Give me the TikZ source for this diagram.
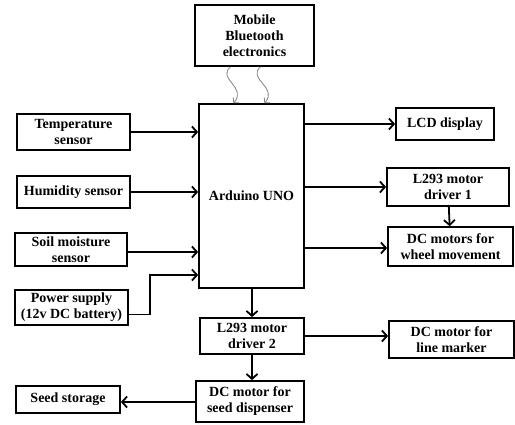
\documentclass[tikz,border=0pt]{standalone}
\usepackage{fontspec}
\setmainfont{Liberation Serif}
\usetikzlibrary{arrows.meta}

\begin{document}
\begin{tikzpicture}[x=1pt,y=-1pt,
  block/.style={draw=black, rectangle, line width=1.7pt, inner sep=0pt, align=center, font=\bfseries\fontsize{14}{16}\selectfont},
  link/.style={-{Straight Barb[length=5pt,width=11pt]}, line width=1.8pt},
  wave/.style={-{Straight Barb[length=3.5pt,width=8pt]}, gray, line width=0.8pt}]
			\useasboundingbox (0,0) rectangle (515,425);
			\node [block, minimum width=119pt, minimum height=61pt] (mob) at (254.5,35.5) {Mobile\\Bluetooth\\electronics};
			\node [block, minimum width=105pt, minimum height=184pt] (ard) at (251.5,196) {Arduino UNO};
			\node [block, minimum width=113pt, minimum height=36pt] (temp) at (73.5,132) {Temperature\\sensor};
			\node [block, minimum width=113pt, minimum height=32pt] (hum) at (73.5,192) {Humidity sensor};
			\node [block, minimum width=112pt, minimum height=33pt] (soil) at (71,249.5) {Soil moisture\\sensor};
			\node [block, minimum width=113pt, minimum height=35pt] (pow) at (71.5,307.5) {Power supply\\(12v DC battery)};
			\node [block, minimum width=98pt, minimum height=32pt] (lcd) at (445,124) {LCD display};
			\node [block, minimum width=122pt, minimum height=38pt] (drvA) at (448,187) {L293 motor\\driver 1};
			\node [block, minimum width=125pt, minimum height=39pt] (wheel) at (450.5,246.5) {DC motors for\\wheel movement};
			\node [block, minimum width=104pt, minimum height=36pt] (drvB) at (252,336) {L293 motor\\driver 2};
			\node [block, minimum width=125pt, minimum height=37pt] (marker) at (451.5,339.5) {DC motor for\\line marker};
			\node [block, minimum width=108pt, minimum height=41pt] (disp) at (250,401.5) {DC motor for\\seed dispenser};
			\node [block, minimum width=104pt, minimum height=27pt] (seed) at (68,399.5) {Seed storage};
			\coordinate (bend) at (150,275);
			% bluetooth link
			\draw [wave] ([xshift=-24pt]mob.south) .. controls +(-14,12) and +(14,-16) .. ([xshift=-18pt]ard.north);
			\draw [wave] ([xshift=6pt]mob.south) .. controls +(-14,12) and +(14,-16) .. ([xshift=13pt]ard.north);
			% inputs
			\draw [link] (temp.east) -- (temp.east -| ard.west);
			\draw [link] (hum.east) -- (hum.east -| ard.west);
			\draw [link] ([yshift=-2.5pt]soil.east) -- ([yshift=-2.5pt]soil.east -| ard.west);
			\draw [link] ([yshift=-7pt]pow.east) -| (bend) -- (bend -| ard.west);
			% outputs
			\draw [link] (ard.east |- lcd.west) -- (lcd.west);
			\draw [link] (ard.east |- drvA.west) -- (drvA.west);
			\draw [link] ([yshift=-1.5pt]ard.east |- wheel.west) -- ([yshift=-1.5pt]wheel.west);
			\draw [link] (drvA) -- (wheel);
			\draw [link] (ard.south -| drvB.north) -- (drvB.north);
			\draw [link] (drvB.east) -- (drvB.east -| marker.west);
			\draw [link] (drvB.south) -- (drvB.south |- disp.north);
			\draw [link] ([yshift=-0.5pt]disp.west) -- ([yshift=-0.5pt]disp.west -| seed.east);
		\end{tikzpicture}
\end{document}
